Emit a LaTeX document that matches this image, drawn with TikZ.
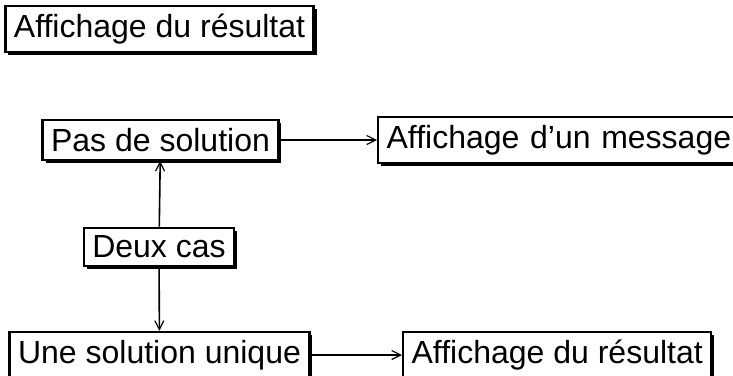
\documentclass[tikz,border=0pt]{standalone}
\usepackage{fontspec}
\setmainfont{Liberation Sans}
\usepackage{tikz}
\usetikzlibrary{arrows.meta,positioning,shadows}
\tikzset{
  etape/.style={draw=black,fill=white,line width=2.3pt,inner xsep=8.5pt,inner ysep=8pt,
              font=\fontsize{32}{38}\selectfont,
              drop shadow={shadow xshift=3pt,shadow yshift=-3pt,opacity=1,fill=black}},
  lien/.style={-{Straight Barb[length=9pt,width=9pt,line width=1.2pt]},line width=1.6pt,draw=black},
}
\begin{document}
\begin{tikzpicture}[x=1pt,y=-1pt]
  \clip (0,0) rectangle (733,375);
  % entete
  \node[etape] (res1) at (159.5,29) {Affichage du résultat};
  % les deux cas
  \node[etape] (pas) at (160.5,140) {Pas de solution};
  \node[etape,anchor=west,text width=352pt,align=left] (msg) at (377,140) {Affichage d’un message};
  \node[etape] (deux) at (159,247) {Deux cas};
  \node[etape] (une) at (159.5,355) {Une solution unique};
  \node[etape,anchor=west] (res2) at (402,355) {Affichage du résultat};
  \draw[lien] (pas) -- (msg);
  \draw[lien] (deux) -- (pas);
  \draw[lien] (deux) -- (une);
  \draw[lien] (une) -- (res2);
\end{tikzpicture}
\end{document}
